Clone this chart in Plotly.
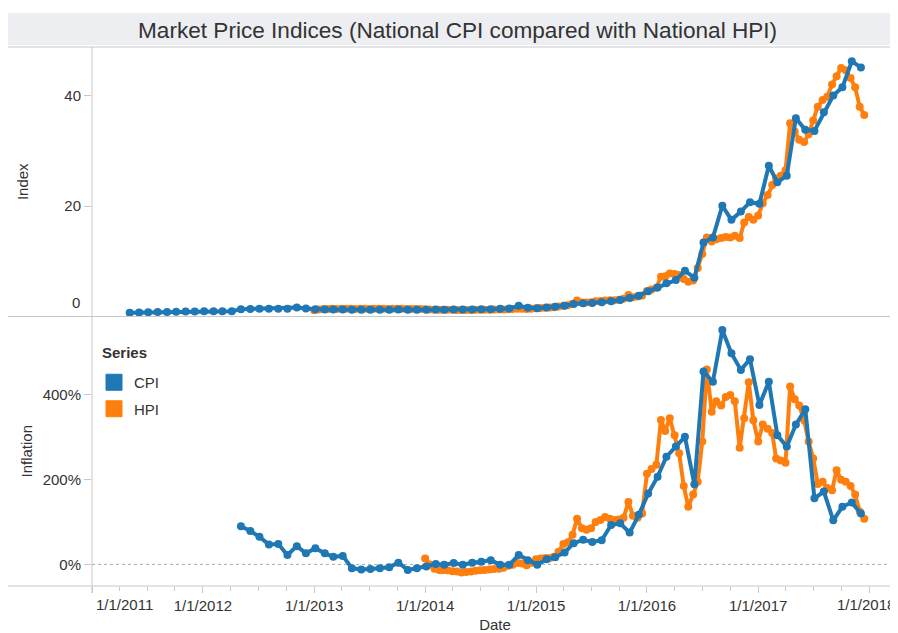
import plotly.graph_objects as go
from plotly.subplots import make_subplots

# ---- data ----
# CPI is monthly, 2011-05 .. 2017-12 (index), 2012-05 .. 2017-12 (yoy inflation)
cpi_start = (2011, 5)
cpi_index = [0.70, 0.72, 0.76, 0.80, 0.83, 0.86, 0.90, 0.92, 0.93, 0.94, 0.95, 0.96,
             1.33, 1.37, 1.40, 1.40, 1.42, 1.42, 1.62, 1.45, 1.30, 1.28, 1.28, 1.25,
             1.22, 1.22, 1.22, 1.22, 1.24, 1.28, 1.22, 1.22, 1.24, 1.26, 1.24, 1.27,
             1.25, 1.27, 1.30, 1.32, 1.40, 1.45, 1.95, 1.60, 1.50, 1.65, 1.75, 1.96,
             2.26, 2.38, 2.44, 2.56, 2.74, 2.98, 3.34, 3.77, 4.55, 5.27, 6.00, 6.60,
             8.3, 7.0, 13.4, 14.3, 20.05, 17.5, 19.0, 20.7, 20.4, 27.3, 24.3, 25.5,
             35.9, 33.8, 33.6, 37.0, 40.0, 41.5, 46.2, 45.1]
cpi_infl_start = (2012, 5)
cpi_infl = [90, 79, 65, 47, 48, 22, 43, 26, 38, 26, 18, 20,
            -9, -12, -11, -9, -7, 4, -13, -9, -5, 1, -1, 3,
            -1, 4, 6, 10, -1, -1, 22, 10, -1, 12, 17, 28,
            50, 58, 53, 57, 93, 97, 75, 117, 167, 207, 254, 278,
            301, 189, 455, 431, 553, 498, 459, 484, 376, 431, 305, 278,
            330, 366, 156, 172, 104, 136, 146, 120]

# HPI is twice a month, 2013-01 .. 2017-12 (index), 2014-01 .. 2017-12 (inflation)
hpi_start = (2013, 1)
hpi_index = [1.15, 1.25, 1.35, 1.38, 1.40, 1.38, 1.40, 1.42, 1.40, 1.38, 1.40, 1.40,
             1.38, 1.40, 1.42, 1.40, 1.38, 1.40, 1.42, 1.40, 1.38, 1.36, 1.38, 1.36,
             1.32, 1.28, 1.24, 1.22, 1.21, 1.20, 1.20, 1.18, 1.16, 1.17, 1.18, 1.20,
             1.20, 1.22, 1.24, 1.25, 1.25, 1.27, 1.32, 1.35, 1.40, 1.40, 1.37, 1.42,
             1.50, 1.55, 1.60, 1.62, 1.68, 1.80, 1.95, 2.05, 2.30, 2.90, 2.55, 2.55,
             2.60, 2.75, 2.80, 2.90, 2.95, 2.95, 3.05, 3.20, 3.90, 3.50, 3.60, 3.80,
             4.60, 4.90, 5.20, 7.20, 7.30, 7.80, 7.70, 7.50, 6.80, 6.30, 6.50, 8.80,
             11.3, 14.3, 13.6, 14.0, 14.2, 14.4, 14.3, 14.6, 14.2, 17.0, 18.0, 17.5,
             18.3, 20.5, 22.0, 23.8, 25.0, 25.5, 26.5, 35.0, 33.5, 32.0, 31.6, 33.0,
             35.5, 38.0, 39.2, 39.8, 42.0, 43.5, 45.0, 44.6, 43.2, 41.5, 38.0, 36.5]
hpi_infl_start = (2014, 1)
hpi_infl = [14, 0, -10, -13, -14, -14, -16, -17, -19, -18, -17, -15,
            -14, -13, -12, -11, -10, -8, -3, -1, 3, 2, -2, 4,
            12, 14, 15, 15, 18, 30, 48, 52, 70, 108, 85, 82,
            85, 100, 105, 112, 108, 105, 106, 110, 147, 115, 110, 120,
            214, 225, 235, 341, 315, 345, 305, 262, 185, 136, 165, 195,
            290, 460, 360, 385, 375, 395, 400, 385, 275, 345, 430, 340,
            290, 330, 320, 310, 250, 245, 240, 420, 390, 375, 340, 290,
            250, 190, 195, 180, 175, 222, 200, 195, 185, 165, 125, 108]

years = list(range(2011, 2019))
tick_text = ['1/1/%d' % y for y in years]
index_ticks = [0, 20, 40]
infl_ticks = [0, 200, 400]

BLUE = '#1f77b4'
ORANGE = '#ff7f0e'
RULE = '#c8c8c8'
TXT = '#333333'
FONT = 'Liberation Sans, Arial, sans-serif'


def monthly(start, n, day=5):
    y, m = start
    out = []
    for i in range(n):
        out.append('%d-%02d-%02d' % (y, m, day))
        m += 1
        if m > 12:
            m, y = 1, y + 1
    return out


def half_monthly(start, n):
    y, m = start
    out = []
    for i in range(n):
        out.append('%d-%02d-%02d' % (y, m, 1 if i % 2 == 0 else 16))
        if i % 2 == 1:
            m += 1
            if m > 12:
                m, y = 1, y + 1
    return out


fig = make_subplots(rows=2, cols=1, shared_xaxes=True, vertical_spacing=0)

line_w = 4
mk = 8
# HPI drawn first so CPI sits on top, like the original
fig.add_trace(go.Scatter(x=half_monthly(hpi_start, len(hpi_index)), y=hpi_index,
                         mode='lines+markers', line=dict(color=ORANGE, width=line_w),
                         marker=dict(color=ORANGE, size=mk), showlegend=False), row=1, col=1)
fig.add_trace(go.Scatter(x=monthly(cpi_start, len(cpi_index)), y=cpi_index,
                         mode='lines+markers', line=dict(color=BLUE, width=line_w),
                         marker=dict(color=BLUE, size=mk), showlegend=False), row=1, col=1)
fig.add_trace(go.Scatter(x=half_monthly(hpi_infl_start, len(hpi_infl)), y=hpi_infl,
                         mode='lines+markers', line=dict(color=ORANGE, width=line_w),
                         marker=dict(color=ORANGE, size=mk), showlegend=False), row=2, col=1)
fig.add_trace(go.Scatter(x=monthly(cpi_infl_start, len(cpi_infl)), y=cpi_infl,
                         mode='lines+markers', line=dict(color=BLUE, width=line_w),
                         marker=dict(color=BLUE, size=mk), showlegend=False), row=2, col=1)

# legend entries (square swatches)
for name, col in [('CPI', BLUE), ('HPI', ORANGE)]:
    fig.add_trace(go.Scatter(x=[None], y=[None], mode='markers', name=name, legendgroup=name,
                             marker=dict(symbol='square', size=20, color=col,
                                         line=dict(color=col, width=1))), row=2, col=1)

x_range = ['2011-01-01', '2018-04-06']
fig.update_xaxes(type='date', range=x_range, showgrid=False, zeroline=False, showline=False)
fig.update_xaxes(showticklabels=False, ticks='', row=1, col=1)
# first and last year labels are placed as annotations (shifted inside like the original)
fig.update_xaxes(tickvals=['%d-01-01' % y for y in years],
                 ticktext=[''] + tick_text[1:-1] + [''],
                 ticks='outside', ticklen=6, tickcolor=RULE,
                 minor=dict(dtick='M3', ticks='outside', ticklen=4, tickcolor=RULE),
                 tickfont=dict(size=15, color=TXT, family=FONT),
                 title=dict(text='Date', font=dict(size=15, color=TXT, family=FONT), standoff=8),
                 row=2, col=1)

fig.update_yaxes(range=[0, 48.8], tickvals=index_ticks,
                 ticktext=[''] + [str(v) for v in index_ticks[1:]],
                 ticks='outside', ticklen=7, tickcolor=RULE, showgrid=False, zeroline=False,
                 tickfont=dict(size=15, color=TXT, family=FONT),
                 title=dict(text='Index', font=dict(size=15, color=TXT, family=FONT), standoff=32),
                 row=1, col=1)
fig.update_yaxes(range=[-51, 585], tickvals=infl_ticks,
                 ticktext=['%d%%' % v for v in infl_ticks],
                 ticks='outside', ticklen=7, tickcolor=RULE, showgrid=False, zeroline=False,
                 tickfont=dict(size=15, color=TXT, family=FONT),
                 title=dict(text='Inflation', font=dict(size=15, color=TXT, family=FONT), standoff=6),
                 row=2, col=1)

# the page puts the figure 8px in from the top-left, so the figure is 8px smaller
W, H = 890, 625
ml, mt, mb = 84, 39, 47
ph = H - mt - mb


def py(px):
    # reference pixel row -> paper y
    return (586 - px) / ph


def pxx(px):
    # reference pixel column -> paper x
    return (px - 92) / (W - ml)


shapes = [
    dict(type='rect', xref='paper', yref='paper', x0=pxx(8), x1=1, y0=py(45), y1=py(13),
         fillcolor='#eceef1', line=dict(width=0), layer='below'),
    dict(type='line', xref='paper', yref='paper', x0=pxx(8), x1=1, y0=1, y1=1,
         line=dict(color=RULE, width=1)),
    dict(type='line', xref='paper', yref='paper', x0=pxx(8), x1=1, y0=0.5, y1=0.5,
         line=dict(color=RULE, width=1)),
    dict(type='line', xref='paper', yref='paper', x0=pxx(8), x1=1, y0=0, y1=0,
         line=dict(color=RULE, width=1)),
    dict(type='line', xref='paper', yref='paper', x0=0, x1=0, y0=py(593), y1=1,
         line=dict(color=RULE, width=1)),
    dict(type='line', xref='paper', yref='y2', x0=0, x1=1, y0=0, y1=0,
         line=dict(color='#aaaaaa', width=1, dash='dot'), layer='below'),
]

small = dict(size=15, color=TXT, family=FONT)
annotations = [
    dict(text='Market Price Indices (National CPI compared with National HPI)',
         xref='paper', yref='paper', x=pxx(457), y=py(30), showarrow=False,
         xanchor='center', yanchor='middle',
         font=dict(size=22.6, color=TXT, family=FONT)),
    dict(text='0', xref='paper', yref='paper', x=0, xshift=-10, y=py(302),
         xanchor='right', yanchor='middle', showarrow=False, font=small),
    dict(text=tick_text[0], xref='paper', yref='paper', x=0, xshift=2, y=py(604),
         xanchor='left', yanchor='middle', showarrow=False, font=small),
    dict(text=tick_text[-1], xref='paper', yref='paper', x=1, xshift=-1, y=py(604),
         xanchor='right', yanchor='middle', showarrow=False, font=small),
    dict(text='<b>Series</b>', xref='paper', yref='paper', x=pxx(100), y=py(352),
         xanchor='left', yanchor='middle', showarrow=False, font=small),
]

fig.update_layout(
    width=W, height=H,
    margin=dict(l=ml, r=0, t=mt, b=mb),
    paper_bgcolor='white', plot_bgcolor='white',
    shapes=shapes, annotations=annotations,
    legend=dict(font=small,
                x=pxx(94), y=py(366), xanchor='left', yanchor='top',
                bgcolor='rgba(0,0,0,0)', tracegroupgap=4, itemsizing='trace'),
    font=dict(family=FONT, color=TXT),
)

fig.write_html('out.html')
